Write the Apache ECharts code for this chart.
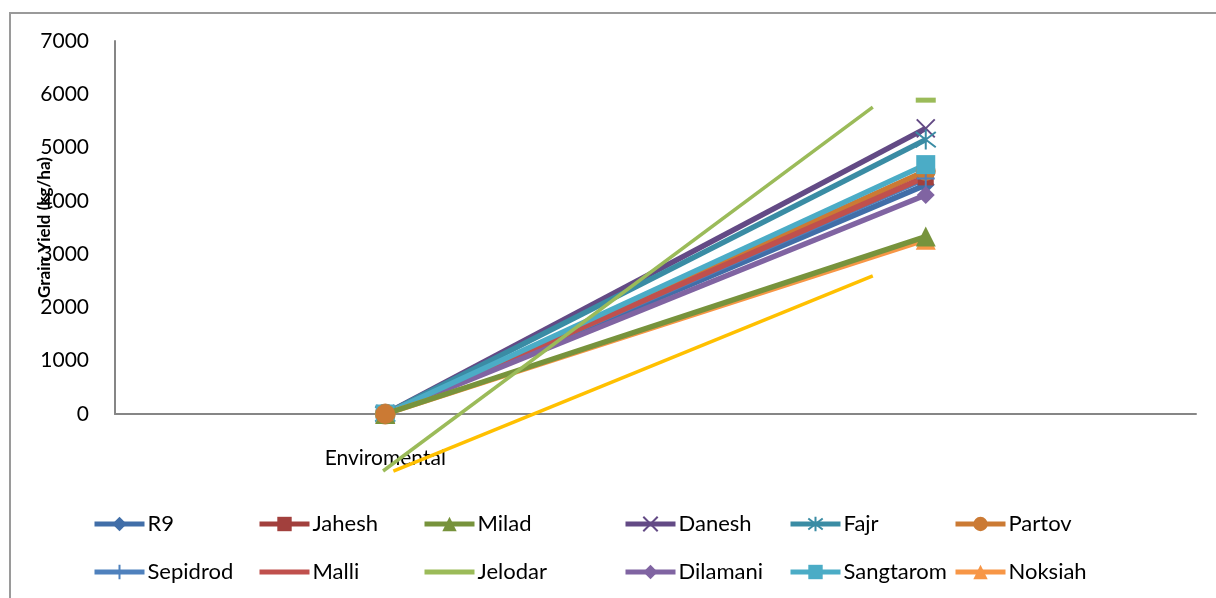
<!DOCTYPE html>
<html>
<head>
<meta charset="utf-8">
<script src="https://cdn.jsdelivr.net/npm/echarts@6/dist/echarts.min.js"></script>
<style>
  html, body { margin: 0; padding: 0; background: #fff; }
  #frame { position: absolute; left: 9px; top: 12px; width: 1220px; height: 600px;
           border-left: 2px solid #9a9a9a; border-top: 2px solid #9a9a9a; }
  #chart { position: absolute; left: 0; top: 0; width: 1216px; height: 598px; }
</style>
</head>
<body>
<div id="frame"></div>
<div id="chart"></div>
<script>
// Grain yield of twelve rice cultivars
const categories = ['Enviromental', ''];
const yTicks = [0, 1000, 2000, 3000, 4000, 5000, 6000, 7000];

const R9        = [0, 4300];
const Jahesh    = [0, 4440];
const Milad     = [0, 3330];
const Danesh    = [0, 5360];
const Fajr      = [0, 5150];
const Partov    = [0, 4560];
const Sepidrod  = [0, 4420];
const Malli     = [0, 4450];
const Jelodar   = [0, 5890];
const Dilamani  = [0, 4110];
const Sangtarom = [0, 4680];
const Noksiah   = [0, 3270];

// Two free-standing straight lines (start / end points in axis units)
const greenLineX = [0.496, 1.402];
const greenLineY = [-1070, 5760];
const yellowLineX = [0.515, 1.402];
const yellowLineY = [-1070, 2590];

const FONT = 'Lato';
const chart = echarts.init(document.getElementById('chart'), null, { renderer: 'canvas' });

const xMark = 'path://M0,0L10,10M10,0L0,10';
const starMark = 'path://M5,0L5,10M1.2,1.2L8.8,8.8M8.8,1.2L1.2,8.8';
const plusMark = 'path://M5,0L5,10M0,5L10,5';

function cultivar(name, data, color, symbol, size, z, stroke) {
  return {
    name, type: 'line', xAxisIndex: 0, yAxisIndex: 0, data, z,
    symbol, symbolSize: size, showSymbol: symbol !== 'none',
    lineStyle: { color, width: 5.5 },
    itemStyle: stroke ? { color, borderColor: color, borderWidth: 2 } : { color },
    emphasis: { disabled: true },
    animation: false
  };
}

function pairs(xs, ys) { return xs.map((x, i) => [x, ys[i]]); }

const series = [
  cultivar('R9', R9, '#416ea8', 'diamond', 18, 2),
  cultivar('Jahesh', Jahesh, '#a2403d', 'rect', 16, 2),
  cultivar('Milad', Milad, '#77933c', 'triangle', 20, 3),
  cultivar('Danesh', Danesh, '#634a85', xMark, 18, 2, true),
  cultivar('Fajr', Fajr, '#3a8ca4', starMark, 20, 2, true),
  cultivar('Partov', Partov, '#cb7a34', 'circle', 20, 2),
  cultivar('Sepidrod', Sepidrod, '#4f81bd', plusMark, 18, 2, true),
  cultivar('Malli', Malli, '#c0504d', 'none', 0, 2),
  cultivar('Jelodar', Jelodar, '#9bbb59', 'rect', [20, 5], 2),
  cultivar('Dilamani', Dilamani, '#8064a2', 'diamond', 18, 2),
  cultivar('Sangtarom', Sangtarom, '#4bacc6', 'rect', 19, 2),
  cultivar('Noksiah', Noksiah, '#f79646', 'triangle', 20, 2),
  {
    name: 'line-a', type: 'line', xAxisIndex: 1, yAxisIndex: 0,
    data: pairs(greenLineX, greenLineY), symbol: 'none', clip: false, z: 5,
    lineStyle: { color: '#9bbb59', width: 3.5 }, animation: false, silent: true
  },
  {
    name: 'line-b', type: 'line', xAxisIndex: 1, yAxisIndex: 0,
    data: pairs(yellowLineX, yellowLineY), symbol: 'none', clip: false, z: 5,
    lineStyle: { color: '#ffc000', width: 3.5 }, animation: false, silent: true
  }
];
// Jelodar's connecting line is not drawn in the plot, only its marker
series[8].lineStyle = { color: '#9bbb59', width: 5.5, opacity: 0 };
// The Partov circle sits on top of the other markers at the first category
series[5].data = [{ value: Partov[0], symbolSize: 21 }, Partov[1]];
series.push(Object.assign({}, series[5], {
  name: 'Partov-top', z: 4, data: [Partov[0], null], lineStyle: { opacity: 0 }
}));

const legendCols = [
  ['R9', 'Sepidrod'], ['Jahesh', 'Malli'], ['Milad', 'Jelodar'],
  ['Danesh', 'Dilamani'], ['Fajr', 'Sangtarom'], ['Partov', 'Noksiah']
];
const legendLeft = [92, 257, 422, 623, 788, 953];
const lineOnly = ['Malli', 'Jelodar'];

const legends = legendCols.map((names, i) => ({
  orient: 'vertical', left: legendLeft[i], top: 513, padding: 0,
  itemWidth: 50, itemHeight: 18, itemGap: 26,
  data: names.map(n => lineOnly.includes(n)
    ? { name: n, lineStyle: { opacity: 1, width: 5 }, itemStyle: { opacity: 0 } }
    : { name: n, lineStyle: { opacity: 1, width: 5 } }),
  selectedMode: false,
  textStyle: { fontFamily: FONT, fontSize: 22, color: '#000', lineHeight: 20, padding: [0, 0, 0, -2] }
}));

chart.setOption({
  backgroundColor: 'transparent',
  animation: false,
  grid: { left: 115, right: 20, top: 41, bottom: 184, containLabel: false },
  xAxis: [
    {
      type: 'category', data: categories, boundaryGap: true,
      axisLine: { lineStyle: { color: '#868686', width: 2 } },
      axisTick: { show: false },
      axisLabel: { fontFamily: FONT, fontSize: 21, color: '#000', margin: 34 },
      splitLine: { show: false }
    },
    { type: 'value', min: 0, max: 2, show: false }
  ],
  yAxis: {
    type: 'value', min: yTicks[0], max: yTicks[yTicks.length - 1], interval: 1000,
    axisLine: { show: true, lineStyle: { color: '#868686', width: 2 } },
    axisTick: { show: false },
    splitLine: { show: false },
    axisLabel: { fontFamily: FONT, fontSize: 21, color: '#000', margin: 26,
                 formatter: v => String(v) },
    name: 'Grain Yield (kg/ha)', nameLocation: 'middle', nameGap: 62, nameRotate: 90,
    nameMoveOverlap: false,
    nameTextStyle: { fontFamily: FONT, fontSize: 17, fontWeight: 'bold', color: '#000' }
  },
  legend: legends,
  series
});
</script>
</body>
</html>
